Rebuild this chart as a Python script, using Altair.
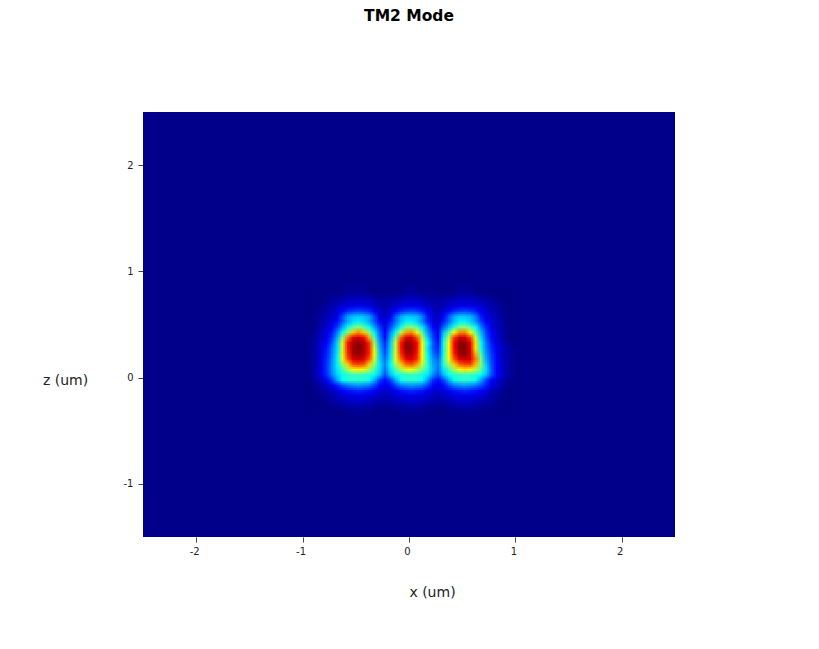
import altair as alt
import pandas as pd

TITLE = "TM2 Mode"
X_LABEL = "x (um)"
Z_LABEL = "z (um)"
X_START = -1.0
Z_TOP = 0.85
STEP = 0.05
TICKS_X = [-2, -1, 0, 1, 2]
TICKS_Z = [-1, 0, 1, 2]
JET_STOPS = [0, 11, 36, 61, 86, 100]
JET_COLORS = ["#00008b", "#0000ff", "#00ffff", "#ffff00", "#ff0000", "#800000"]

row00 = [0,0,0,0,0,0,0,0,1,1,1,1,0,0,0,0,0,0,0,1,1,1,0,0,0,0,0,0,0,1,1,1,0,0,0,0,0,0,0,0]
row01 = [0,0,0,0,0,1,1,2,3,3,3,3,2,1,1,1,1,1,2,3,3,3,2,1,1,1,1,1,2,3,3,3,2,1,1,0,0,0,0,0]
row02 = [0,0,0,0,1,2,3,4,5,6,6,6,5,4,3,3,3,4,5,6,6,6,5,4,3,3,3,4,5,6,6,6,5,4,3,2,1,0,0,0]
row03 = [0,0,0,1,2,3,5,7,8,9,9,9,8,6,4,3,4,6,8,9,9,9,8,6,4,3,4,6,8,9,9,9,8,7,5,3,2,1,0,0]
row04 = [0,0,0,1,3,5,7,11,15,17,18,17,15,11,6,4,7,11,15,17,18,17,14,10,6,4,7,11,15,17,18,17,14,10,7,5,3,1,0,0]
row05 = [0,0,1,2,4,6,9,18,27,30,31,30,27,18,8,5,10,20,28,31,31,30,24,14,7,5,11,20,28,31,31,29,24,14,9,6,4,2,0,0]
row06 = [0,0,1,3,5,8,12,20,28,33,35,33,28,20,12,7,14,22,30,35,35,32,24,15,9,6,14,22,30,35,35,32,26,18,11,7,5,3,0,0]
row07 = [0,0,1,4,6,10,17,27,37,45,49,45,37,27,17,9,18,28,38,48,49,44,34,22,12,8,20,30,40,48,50,45,36,24,15,9,5,3,1,0]
row08 = [0,0,2,5,8,13,23,36,50,66,72,66,50,35,21,11,24,36,54,70,72,62,44,27,16,10,30,44,60,72,73,62,46,30,18,11,6,3,1,0]
row09 = [0,1,2,6,9,16,28,50,74,88,91,86,70,44,24,12,28,48,76,90,90,78,54,32,18,11,34,54,80,91,91,80,56,33,20,12,7,4,1,0]
row10 = [0,1,3,7,11,19,32,58,84,95,98,95,82,52,27,15,31,56,84,97,96,86,60,36,21,13,38,60,86,98,98,89,64,38,23,14,8,4,2,0]
row11 = [0,1,3,8,13,22,33,57,83,96,100,95,83,57,29,17,32,56,84,98,97,85,60,34,20,15,38,60,85,98,100,90,63,38,24,15,10,6,3,1]
row12 = [0,1,3,8,14,23,34,58,82,95,98,94,83,60,31,19,33,58,82,95,95,84,61,36,23,17,39,60,83,96,99,91,69,44,26,17,10,5,3,1]
row13 = [0,1,3,9,15,24,35,59,78,90,92,90,78,57,32,22,34,58,76,88,90,82,60,38,26,21,40,60,78,90,92,90,74,48,28,18,11,6,3,1]
row14 = [0,1,3,9,16,25,35,50,66,78,80,78,66,50,34,24,36,52,66,76,78,70,56,40,28,23,40,52,66,76,80,80,68,50,31,19,11,6,3,1]
row15 = [0,1,3,9,16,25,34,43,52,60,62,60,52,43,33,22,34,44,52,59,60,54,47,39,29,22,34,43,52,60,63,62,54,45,33,20,11,6,3,1]
row16 = [0,1,4,9,15,24,32,37,40,41,42,41,40,37,30,19,30,37,40,41,41,41,38,34,25,19,30,37,40,41,42,41,40,37,30,19,12,7,3,1]
row17 = [0,0,2,6,10,17,27,36,40,40,40,40,37,28,18,12,18,28,37,40,40,40,36,27,16,12,18,28,37,40,40,40,37,28,18,11,7,4,1,0]
row18 = [0,0,1,3,6,9,14,19,23,25,26,25,23,18,12,9,12,18,23,25,26,25,23,18,12,9,12,18,23,25,26,25,23,19,14,9,6,3,1,0]
row19 = [0,0,0,2,3,5,8,11,13,14,15,14,13,10,8,6,8,10,13,14,15,14,13,10,8,6,8,10,13,14,15,14,13,11,8,5,3,1,0,0]
row20 = [0,0,0,1,2,3,5,7,8,9,9,9,8,7,5,4,5,7,8,9,9,9,8,7,5,4,5,7,8,9,9,9,8,7,5,3,2,1,0,0]
row21 = [0,0,0,0,1,2,3,4,5,6,6,6,5,4,3,3,3,4,5,6,6,6,5,4,3,3,3,4,5,6,6,6,5,4,3,2,1,0,0,0]
row22 = [0,0,0,0,0,1,1,2,2,3,3,3,2,2,1,1,1,2,2,3,3,3,2,2,1,1,1,2,2,3,3,3,2,2,1,1,0,0,0,0]
row23 = [0,0,0,0,0,0,0,0,1,1,1,1,1,0,0,0,0,0,1,1,1,1,1,0,0,0,0,0,1,1,1,1,1,0,0,0,0,0,0,0]
ROWS = [row00,row01,row02,row03,row04,row05,row06,row07,row08,row09,row10,row11,
        row12,row13,row14,row15,row16,row17,row18,row19,row20,row21,row22,row23]

FONT = "DejaVu Sans"
color_scale = alt.Scale(domain=JET_STOPS, range=JET_COLORS, interpolate="rgb")
x_scale = alt.Scale(domain=[-2.5, 2.5], nice=False, zero=False)
z_scale = alt.Scale(domain=[-1.5, 2.5], nice=False, zero=False)

x_axis = alt.Axis(
    title=X_LABEL, values=TICKS_X, labelExpr="'' + datum.value", grid=False, domain=False,
    tickSize=5, tickColor="#444444", labelColor="#222222", labelFontSize=10, labelFont=FONT,
    labelPadding=4, labelOffset=-2, titleFont=FONT, titleFontSize=14, titleFontWeight="normal",
    titleColor="#222222", titleX=289, titleY=55, titleAlign="center", titleBaseline="middle",
)
z_axis = alt.Axis(
    title=Z_LABEL, values=TICKS_Z, labelExpr="'' + datum.value", grid=False, domain=False,
    tickSize=5, tickColor="#444444", labelColor="#222222", labelFontSize=10, labelFont=FONT,
    labelPadding=5, titleFont=FONT, titleFontSize=14, titleFontWeight="normal",
    titleColor="#222222", titleAngle=0, titleX=-78, titleY=268, titleAlign="center",
    titleBaseline="middle",
)


def cell_table(dx, dz):
    out = []
    for k, row in enumerate(ROWS):
        assert len(row) == 40, (k, len(row))
        for i, v in enumerate(row):
            out.append({
                "x": X_START + (i + dx) * STEP, "x2": X_START + (i + 1 + dx) * STEP,
                "z": Z_TOP - (k + 1 + dz) * STEP, "z2": Z_TOP - (k + dz) * STEP, "v": v,
            })
    return pd.DataFrame(out)


background = pd.DataFrame([{"x": -2.5, "x2": 2.5, "z": -1.5, "z2": 2.5, "v": 0}])
layers = [
    alt.Chart(background).mark_rect(fill="#00008b", strokeWidth=0).encode(
        x=alt.X("x:Q", scale=x_scale, axis=x_axis), x2="x2:Q",
        y=alt.Y("z:Q", scale=z_scale, axis=z_axis), y2="z2:Q",
    )
]
# The same cells are painted at three sub-cell shifts per axis and blended, which softens the block edges.
SHIFTS = [-1 / 3, 0, 1 / 3]
n = 0
for dz in SHIFTS:
    for dx in SHIFTS:
        n += 1
        enc = dict(
            x=alt.X("x:Q", scale=x_scale, axis=x_axis), x2="x2:Q",
            y=alt.Y("z:Q", scale=z_scale, axis=z_axis), y2="z2:Q",
            fill=alt.Fill("v:Q", scale=color_scale, legend=None),
        )
        if n == 1:
            mark = alt.Chart(cell_table(dx, dz)).mark_rect(strokeWidth=0.7)
            enc["stroke"] = alt.Stroke("v:Q", scale=color_scale, legend=None)
        else:
            mark = alt.Chart(cell_table(dx, dz)).mark_rect(strokeWidth=0, opacity=1 / n)
        layers.append(mark.encode(**enc))

chart = alt.layer(*layers).properties(
    width=532, height=425,
    title=alt.TitleParams(TITLE, font=FONT, fontSize=15.5, fontWeight="bold", color="#000000",
                          anchor="middle", offset=88),
    autosize=alt.AutoSizeParams(type="none"),
    padding={"left": 135, "top": 104, "right": 136, "bottom": 104},
).configure_view(stroke=None)

chart.save("out.html", embed_options={"renderer": "svg", "actions": False})
